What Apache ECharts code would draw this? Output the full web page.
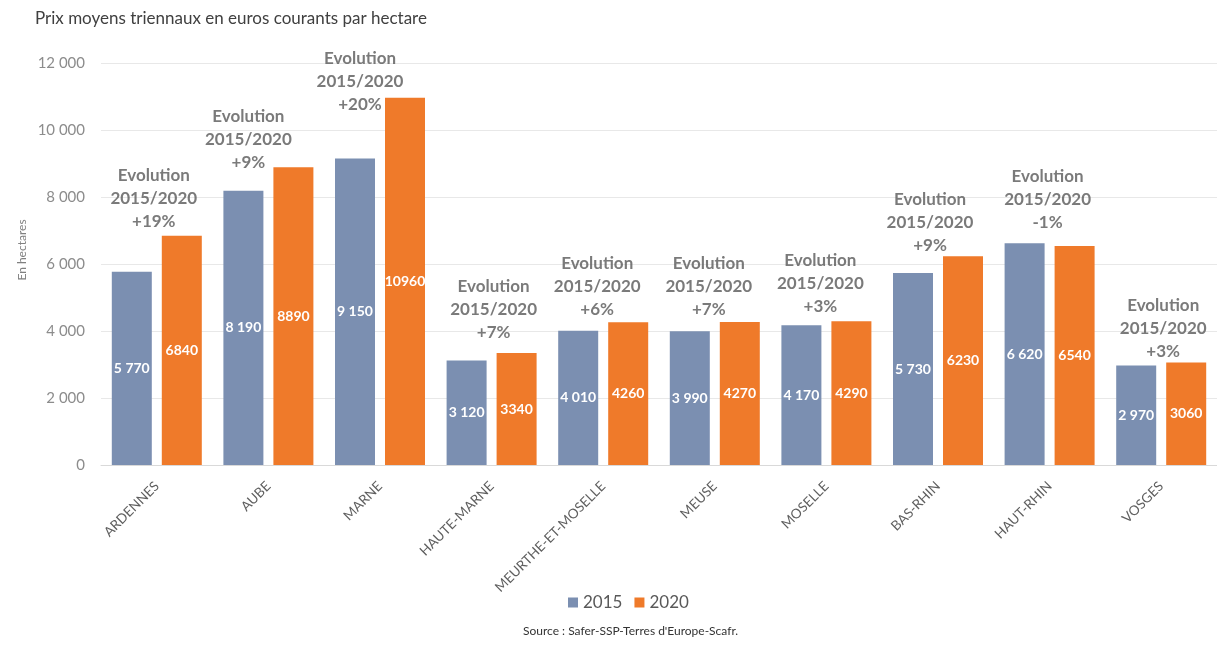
<!DOCTYPE html>
<html>
<head>
<meta charset="utf-8">
<script src="https://cdn.jsdelivr.net/npm/echarts@6/dist/echarts.min.js"></script>
<style>
  html, body { margin: 0; padding: 0; background: #ffffff; }
  #chart { width: 1217px; height: 645px; }
</style>
</head>
<body>
<div id="chart"></div>
<script>
// Départements du Grand Est
const departements = ['ARDENNES', 'AUBE', 'MARNE', 'HAUTE-MARNE', 'MEURTHE-ET-MOSELLE',
  'MEUSE', 'MOSELLE', 'BAS-RHIN', 'HAUT-RHIN', 'VOSGES'];

// Prix moyens triennaux (euros courants / ha)
const prix2015 = [5770, 8190, 9150, 3120, 4010, 3990, 4170, 5730, 6620, 2970];
const prix2020 = [6840, 8890, 10960, 3340, 4260, 4270, 4290, 6230, 6540, 3060];

// Évolution 2015/2020 affichée au-dessus de chaque département
const evolution = ['+19%', '+9%', '+20%', '+7%', '+6%', '+7%', '+3%', '+9%', '-1%', '+3%'];

// Axe vertical
const yTicks = [0, 2000, 4000, 6000, 8000, 10000, 12000];

// Décalages manuels [dx, dy] des encadrés « Evolution » (mise en page)
const evolutionNudge = [[-3, 0], [-20, 10], [-20, 21], [2, -6], [-6, 2],
  [-6, 2], [-6, 0], [-8, 4], [-2, -6], [2, 4]];

const FONT = 'Lato, "Open Sans", sans-serif';
const BLUE = '#7b8fb1';
const ORANGE = '#ef7a2a';

const spaced = v => String(v).replace(/\B(?=(\d{3})+(?!\d))/g, ' ');

const evolutionPoints = prix2015.map((v, i) => ({
  value: Math.max(v, prix2020[i]),
  label: { offset: evolutionNudge[i] }
}));

const chart = echarts.init(document.getElementById('chart'), null, { renderer: 'canvas' });

chart.setOption({
  backgroundColor: '#ffffff',
  animation: false,
  textStyle: { fontFamily: FONT },
  grid: { left: 101, right: 0, top: 63, bottom: 180, containLabel: false },
  title: {
    text: 'Prix moyens triennaux en euros courants par hectare',
    left: 30, top: 5,
    textStyle: { fontFamily: FONT, fontSize: 17, fontWeight: 'normal', color: '#404040' }
  },
  legend: {
    data: ['2015', '2020'],
    left: 563, top: 589,
    itemWidth: 10, itemHeight: 10, itemGap: 12,
    icon: 'rect',
    textStyle: { fontFamily: FONT, fontSize: 17, color: '#595959' }
  },
  graphic: [
    {
      type: 'text', left: 523, top: 625,
      style: { text: "Source : Safer-SSP-Terres d'Europe-Scafr.", font: '12px ' + FONT, fill: '#333333' }
    },
    {
      type: 'text', x: 22, y: 250, rotation: Math.PI / 2,
      style: { text: 'En hectares', font: '12px ' + FONT, fill: '#808080', align: 'center', verticalAlign: 'middle' }
    }
  ],
  xAxis: {
    type: 'category',
    data: departements,
    axisLine: { show: true, lineStyle: { color: '#d9d9d9' } },
    axisTick: { show: false },
    axisLabel: {
      rotate: 45, interval: 0, margin: 19,
      fontFamily: FONT, fontSize: 13.5, color: '#5f5f5f'
    }
  },
  yAxis: {
    type: 'value',
    min: yTicks[0], max: yTicks[yTicks.length - 1], interval: 2000,
    axisLine: { show: false },
    axisTick: { show: false },
    splitLine: { lineStyle: { color: '#e8e8e8' } },
    axisLabel: {
      margin: 16, fontFamily: FONT, fontSize: 15, color: '#8c8c8c',
      formatter: v => spaced(v)
    }
  },
  series: [
    {
      name: '2015', type: 'bar', data: prix2015,
      barWidth: 40, barGap: '25%',
      itemStyle: { color: BLUE },
      label: {
        show: true, position: 'inside', color: '#ffffff',
        fontFamily: FONT, fontWeight: 'bold', fontSize: 14,
        formatter: p => spaced(p.value)
      }
    },
    {
      name: '2020', type: 'bar', data: prix2020,
      barWidth: 40,
      itemStyle: { color: ORANGE },
      label: {
        show: true, position: 'inside', color: '#ffffff',
        fontFamily: FONT, fontWeight: 'bold', fontSize: 14,
        formatter: p => String(p.value)
      }
    },
    {
      name: 'evolution', type: 'scatter', data: evolutionPoints,
      symbolSize: 0, silent: true, z: 5,
      label: {
        show: true, position: 'top', distance: 3,
        fontFamily: FONT, fontWeight: 'bold', fontSize: 17, lineHeight: 23,
        color: '#595959', align: 'center',
        formatter: p => 'Evolution\n2015/2020\n' + evolution[p.dataIndex]
      }
    }
  ]
});
</script>
</body>
</html>
